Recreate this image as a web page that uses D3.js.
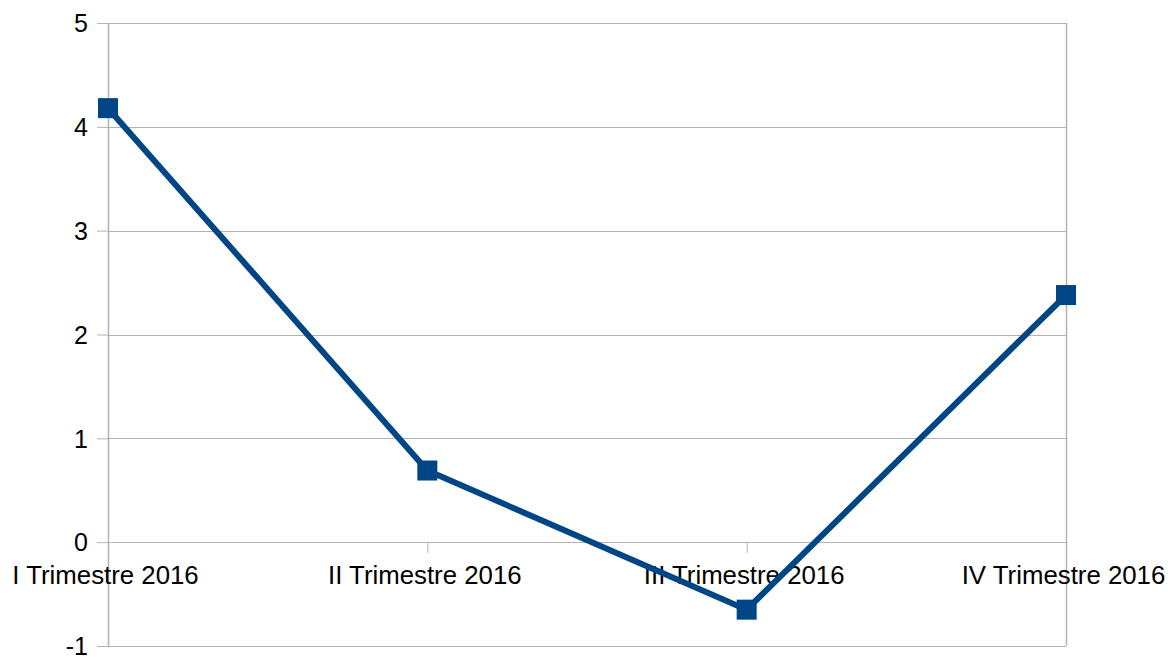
<!DOCTYPE html>
<html>
<head>
<meta charset="utf-8">
<script src="https://cdn.jsdelivr.net/npm/d3@7"></script>
<style>
  body { margin: 0; background: #fff; }
  svg text { font-family: "Liberation Sans", Arial, sans-serif; fill: #000; }
</style>
</head>
<body>
<div id="chart"></div>
<script>
// chart data
var categories = ["I Trimestre 2016", "II Trimestre 2016", "III Trimestre 2016", "IV Trimestre 2016"];
var values = [4.18, 0.69, -0.65, 2.38];
var yTicks = [-1, 0, 1, 2, 3, 4, 5];

var svgWidth = 1168;
var svgHeight = 657;

var margin = { top: 23, right: 102, bottom: 11, left: 108 };
var width = svgWidth - margin.left - margin.right;
var height = svgHeight - margin.top - margin.bottom;

var svg = d3.select("#chart")
  .append("svg")
  .attr("width", svgWidth)
  .attr("height", svgHeight);

var chartGroup = svg.append("g")
  .attr("transform", `translate(${margin.left}, ${margin.top})`);

var xScale = d3.scalePoint()
  .domain(categories)
  .range([0, width]);

var yScale = d3.scaleLinear()
  .domain([-1, 5])
  .range([height, 0]);

var gridColor = "#b3b3b3";

// horizontal gridlines
chartGroup.append("g")
  .selectAll("line")
  .data(yTicks)
  .enter()
  .append("line")
  .attr("x1", 0)
  .attr("x2", width)
  .attr("y1", d => Math.round(yScale(d)) + 0.5)
  .attr("y2", d => Math.round(yScale(d)) + 0.5)
  .attr("stroke", gridColor)
  .attr("stroke-width", 1);

// right border
chartGroup.append("line")
  .attr("x1", width + 0.5).attr("x2", width + 0.5)
  .attr("y1", 0).attr("y2", height)
  .attr("stroke", gridColor)
  .attr("stroke-width", 1.5);

// y axis
var leftAxis = d3.axisLeft(yScale)
  .tickValues(yTicks)
  .tickSize(11)
  .tickPadding(9)
  .tickFormat(d => String(d));

var yAxis = chartGroup.append("g").call(leftAxis);
yAxis.select(".domain").attr("stroke", gridColor).attr("stroke-width", 1.5).attr("d", `M0.5,0V${height}`);
yAxis.selectAll(".tick line").attr("stroke", gridColor);
yAxis.selectAll(".tick text").style("font-size", "25px").attr("dy", "0.35em");

// x axis on zero line
var bottomAxis = d3.axisBottom(xScale)
  .tickSize(11)
  .tickPadding(13);

var xAxis = chartGroup.append("g")
  .attr("transform", `translate(0, ${Math.round(yScale(0))})`)
  .call(bottomAxis);
xAxis.select(".domain").remove();
xAxis.selectAll(".tick line").attr("stroke", gridColor);
xAxis.selectAll(".tick text")
  .style("font-size", "25.8px")
  .attr("x", -3)
  .attr("dy", "0.69em");

// line
var line = d3.line()
  .x((d, i) => xScale(categories[i]))
  .y(d => yScale(d));

chartGroup.append("path")
  .datum(values)
  .attr("d", line)
  .attr("fill", "none")
  .attr("stroke", "#004586")
  .attr("stroke-width", 6)
  .attr("stroke-linejoin", "miter");

// square markers
var markerSize = 20;
chartGroup.selectAll("rect.marker")
  .data(values)
  .enter()
  .append("rect")
  .attr("class", "marker")
  .attr("x", (d, i) => xScale(categories[i]) - markerSize / 2)
  .attr("y", d => yScale(d) - markerSize / 2)
  .attr("width", markerSize)
  .attr("height", markerSize)
  .attr("fill", "#004586");
</script>
</body>
</html>
